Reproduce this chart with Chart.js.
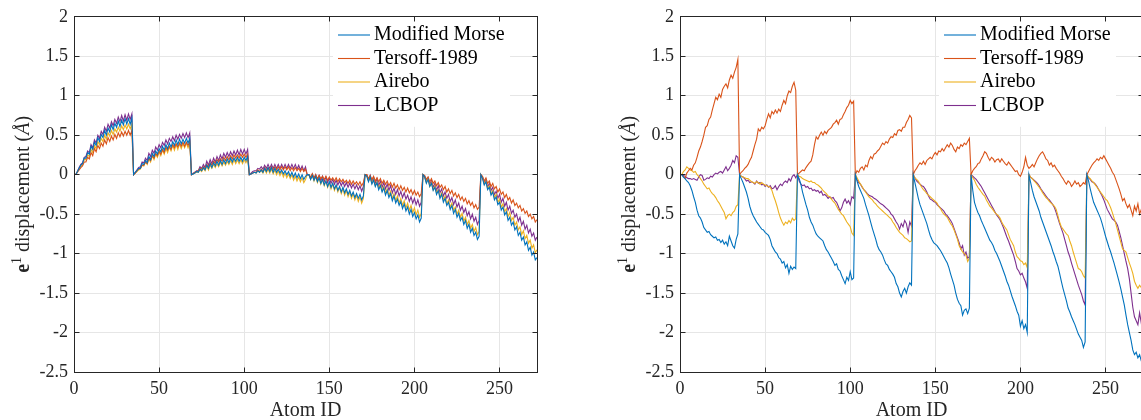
<!DOCTYPE html>
<html>
<head>
<meta charset="utf-8">
<script src="https://cdn.jsdelivr.net/npm/chart.js@4.4.1/dist/chart.umd.min.js"></script>
<style>
  html, body { margin: 0; padding: 0; background: #fff; overflow: hidden; }
  body { width: 1141px; height: 420px; position: relative; }
  canvas { position: absolute; top: 0; }
</style>
</head>
<body>
<canvas id="left" width="570" height="420" style="left:0"></canvas>
<canvas id="right" width="576" height="420" style="left:570px"></canvas>
<script>
// atom ids 1..272, one value per atom in every series
const atomIds = Array.from({ length: 272 }, (_, i) => i + 1)
const seriesNames = ['Modified Morse', 'Tersoff-1989', 'Airebo', 'LCBOP']
const xTicks = [0, 50, 100, 150, 200, 250]
const yTicks = [-2.5, -2, -1.5, -1, -0.5, 0, 0.5, 1, 1.5, 2]

// left panel
const morseLeft = [
  0,.04,.08,.12,.14,.21,.21,.28,.26,.36,.32,.41,.37,.47,.42,.51,.47,.56,.50,.59,.54,.63,.57,.65,.60,.68,.61,.69,.63,.71,.64,.71,.64,.72,
  0,.03,.05,.08,.08,.14,.13,.18,.15,.23,.19,.27,.23,.30,.26,.33,.29,.36,.31,.38,.33,.40,.35,.42,.37,.44,.38,.45,.39,.45,.40,.46,.40,.46,
  0,.01,.02,.04,.03,.07,.05,.09,.06,.12,.08,.14,.09,.15,.11,.17,.12,.18,.13,.19,.14,.20,.15,.21,.16,.21,.17,.22,.17,.22,.17,.22,.18,.23,
  0,.01,.02,.03,.02,.05,.03,.06,.03,.08,.04,.09,.04,.09,.03,.08,.03,.07,.02,.06,.01,.05,0,.04,-.02,.03,-.03,.02,-.04,.01,-.05,0,-.06,-.02,
  0,0,-.06,-.01,-.07,-.02,-.09,-.04,-.11,-.06,-.13,-.08,-.15,-.09,-.16,-.11,-.18,-.13,-.20,-.15,-.22,-.16,-.23,-.18,-.25,-.20,-.27,-.22,-.29,-.24,-.30,-.25,-.32,-.27,
  0,-.02,-.09,-.03,-.12,-.07,-.15,-.10,-.19,-.14,-.22,-.17,-.26,-.20,-.29,-.24,-.33,-.27,-.36,-.31,-.39,-.34,-.43,-.37,-.46,-.41,-.50,-.44,-.53,-.48,-.56,-.51,-.60,-.55,
  0,-.03,-.11,-.06,-.15,-.11,-.20,-.16,-.25,-.20,-.30,-.25,-.35,-.30,-.39,-.35,-.44,-.39,-.49,-.44,-.54,-.49,-.58,-.54,-.63,-.58,-.68,-.63,-.73,-.68,-.77,-.73,-.82,-.78,
  0,-.05,-.13,-.09,-.19,-.16,-.26,-.22,-.32,-.28,-.38,-.35,-.45,-.41,-.51,-.47,-.58,-.54,-.64,-.60,-.70,-.66,-.77,-.73,-.83,-.79,-.89,-.85,-.96,-.92,-1.02,-.98,-1.08,-1.05
]
const tersoffLeft = [
  0,.03,.06,.09,.11,.16,.16,.22,.20,.28,.24,.33,.29,.37,.33,.40,.36,.44,.39,.47,.42,.49,.44,.51,.46,.53,.48,.54,.49,.55,.50,.56,.50,.56,
  0,.02,.05,.07,.08,.12,.12,.16,.14,.21,.18,.24,.21,.27,.24,.30,.26,.32,.28,.35,.31,.36,.32,.38,.34,.39,.35,.40,.36,.41,.36,.41,.37,.42,
  0,.01,.03,.04,.05,.08,.07,.10,.08,.13,.10,.15,.12,.17,.14,.19,.16,.20,.17,.22,.18,.23,.19,.24,.20,.25,.21,.25,.21,.26,.22,.26,.22,.26,
  0,.01,.02,.03,.03,.06,.04,.07,.04,.09,.05,.09,.06,.10,.06,.10,.06,.10,.06,.10,.06,.10,.06,.10,.05,.09,.05,.09,.05,.08,.04,.08,.04,.07,
  0,0,-.03,.01,-.04,0,-.05,-.01,-.05,-.02,-.06,-.02,-.07,-.03,-.07,-.04,-.08,-.04,-.09,-.05,-.09,-.06,-.10,-.07,-.11,-.07,-.12,-.08,-.12,-.09,-.13,-.09,-.14,-.10,
  0,0,-.05,-.01,-.06,-.02,-.08,-.04,-.09,-.05,-.11,-.07,-.12,-.08,-.14,-.10,-.16,-.11,-.17,-.13,-.19,-.14,-.20,-.16,-.22,-.17,-.23,-.19,-.25,-.20,-.26,-.22,-.28,-.24,
  0,-.01,-.06,-.03,-.09,-.05,-.11,-.08,-.14,-.10,-.16,-.13,-.19,-.15,-.22,-.18,-.24,-.20,-.27,-.23,-.29,-.25,-.32,-.28,-.34,-.30,-.37,-.33,-.39,-.35,-.42,-.38,-.44,-.41,
  0,-.02,-.08,-.04,-.11,-.08,-.15,-.11,-.18,-.15,-.22,-.18,-.25,-.22,-.29,-.25,-.32,-.29,-.36,-.32,-.39,-.36,-.42,-.39,-.46,-.43,-.49,-.46,-.53,-.50,-.56,-.53,-.60,-.57
]
const airebLeft = [
  0,.04,.07,.11,.12,.19,.19,.25,.23,.32,.28,.37,.33,.42,.38,.46,.42,.50,.45,.53,.49,.56,.51,.58,.54,.60,.55,.62,.57,.63,.58,.64,.58,.64,
  0,.02,.04,.06,.07,.12,.11,.16,.13,.20,.16,.24,.19,.26,.22,.29,.24,.31,.26,.33,.28,.35,.30,.37,.31,.38,.32,.39,.33,.39,.34,.40,.34,.40,
  0,.01,.02,.03,.03,.06,.04,.08,.05,.11,.06,.12,.08,.13,.09,.14,.10,.16,.11,.16,.12,.17,.13,.18,.13,.19,.14,.19,.14,.19,.14,.19,.15,.20,
  0,.01,.02,.03,.02,.05,.03,.05,.02,.07,.02,.07,.02,.07,.01,.06,0,.05,-.01,.04,-.03,.02,-.04,.01,-.05,0,-.07,-.02,-.08,-.03,-.09,-.04,-.10,-.06,
  0,0,-.06,0,-.08,-.02,-.10,-.04,-.12,-.06,-.14,-.08,-.16,-.10,-.18,-.12,-.20,-.14,-.22,-.16,-.24,-.18,-.26,-.20,-.28,-.22,-.30,-.24,-.32,-.26,-.34,-.28,-.36,-.30,
  0,-.01,-.08,-.03,-.11,-.06,-.14,-.09,-.17,-.12,-.20,-.15,-.23,-.18,-.26,-.21,-.30,-.24,-.33,-.27,-.36,-.30,-.39,-.33,-.42,-.36,-.45,-.39,-.48,-.42,-.51,-.45,-.54,-.49,
  0,-.03,-.10,-.05,-.15,-.10,-.19,-.14,-.23,-.19,-.28,-.23,-.32,-.27,-.37,-.32,-.41,-.36,-.45,-.41,-.50,-.45,-.54,-.49,-.59,-.54,-.63,-.58,-.68,-.63,-.72,-.67,-.76,-.72,
  0,-.04,-.12,-.08,-.18,-.14,-.24,-.20,-.29,-.25,-.35,-.31,-.41,-.37,-.47,-.43,-.53,-.48,-.58,-.54,-.64,-.60,-.70,-.66,-.76,-.71,-.81,-.77,-.87,-.83,-.93,-.89,-.99,-.95
]
const lcbopLeft = [
  0,.04,.09,.13,.15,.22,.23,.30,.28,.38,.34,.44,.40,.50,.46,.55,.51,.60,.55,.64,.59,.67,.62,.70,.65,.73,.67,.75,.68,.76,.69,.77,.70,.77,
  0,.03,.06,.09,.10,.16,.15,.21,.18,.27,.23,.31,.27,.35,.31,.38,.34,.41,.37,.44,.39,.46,.42,.48,.43,.50,.45,.51,.46,.52,.47,.53,.47,.53,
  0,.02,.03,.05,.05,.10,.08,.13,.09,.17,.12,.19,.14,.21,.16,.23,.18,.25,.20,.27,.22,.28,.23,.29,.24,.30,.25,.31,.25,.32,.26,.32,.26,.32,
  0,.02,.04,.05,.05,.08,.07,.10,.07,.12,.08,.13,.08,.13,.08,.13,.08,.13,.08,.13,.08,.13,.08,.13,.08,.13,.08,.13,.07,.12,.06,.11,.05,.10,
  0,0,-.05,.01,-.06,0,-.07,-.01,-.08,-.02,-.09,-.03,-.10,-.04,-.11,-.06,-.12,-.07,-.13,-.08,-.14,-.09,-.15,-.10,-.16,-.11,-.17,-.12,-.18,-.13,-.19,-.14,-.21,-.15,
  0,0,-.07,-.01,-.09,-.03,-.11,-.05,-.14,-.08,-.16,-.10,-.18,-.12,-.20,-.14,-.23,-.17,-.25,-.19,-.27,-.21,-.29,-.23,-.31,-.26,-.34,-.28,-.36,-.30,-.38,-.32,-.40,-.35,
  0,-.02,-.09,-.04,-.13,-.07,-.16,-.11,-.20,-.14,-.23,-.18,-.27,-.22,-.30,-.25,-.34,-.29,-.38,-.32,-.41,-.36,-.45,-.40,-.48,-.43,-.52,-.47,-.56,-.50,-.59,-.54,-.63,-.58,
  0,-.03,-.11,-.06,-.16,-.11,-.20,-.16,-.25,-.21,-.30,-.25,-.35,-.30,-.40,-.35,-.45,-.40,-.49,-.45,-.54,-.50,-.59,-.54,-.64,-.59,-.69,-.64,-.74,-.69,-.78,-.74,-.83,-.79
]

// right panel
const morseRight = [
  0,-.03,-.05,-.08,-.10,-.14,-.20,-.28,-.35,-.45,-.52,-.55,-.60,-.67,-.70,-.73,-.72,-.76,-.78,-.80,-.79,-.83,-.82,-.86,-.83,-.88,-.85,-.90,-.78,-.84,-.90,-.93,-.82,-.75,
  0,-.05,-.10,-.16,-.22,-.30,-.40,-.47,-.52,-.56,-.60,-.63,-.66,-.69,-.70,-.73,-.75,-.77,-.82,-.90,-.94,-.98,-1.00,-1.05,-1.07,-1.12,-1.10,-1.18,-1.14,-1.25,-1.16,-1.20,-1.17,-1.19,
  0,-.05,-.12,-.22,-.30,-.38,-.45,-.54,-.60,-.64,-.70,-.75,-.78,-.80,-.82,-.84,-.90,-.95,-.98,-1.02,-1.06,-1.10,-1.15,-1.13,-1.20,-1.22,-1.28,-1.33,-1.38,-1.30,-1.34,-1.23,-1.33,-1.31,
  0,-.08,-.15,-.20,-.25,-.30,-.38,-.45,-.52,-.60,-.68,-.75,-.82,-.90,-.95,-.98,-1.02,-1.08,-1.13,-1.15,-1.20,-1.23,-1.26,-1.30,-1.38,-1.42,-1.50,-1.55,-1.48,-1.44,-1.50,-1.42,-1.37,-1.40,
  0,-.10,-.20,-.30,-.38,-.44,-.50,-.56,-.62,-.70,-.77,-.82,-.86,-.88,-.90,-.93,-.96,-1.00,-1.04,-1.08,-1.12,-1.18,-1.26,-1.33,-1.40,-1.50,-1.58,-1.63,-1.66,-1.78,-1.72,-1.70,-1.76,-1.69,
  0,-.20,-.35,-.42,-.48,-.52,-.58,-.63,-.68,-.73,-.78,-.83,-.86,-.90,-.96,-1.00,-1.05,-1.10,-1.16,-1.22,-1.28,-1.35,-1.40,-1.47,-1.54,-1.60,-1.66,-1.73,-1.78,-1.92,-1.85,-1.95,-1.90,-2.00,
  0,-.10,-.20,-.28,-.34,-.40,-.46,-.54,-.60,-.66,-.72,-.78,-.84,-.90,-.97,-1.03,-1.10,-1.16,-1.25,-1.35,-1.44,-1.52,-1.60,-1.69,-1.74,-1.80,-1.85,-1.90,-1.96,-2.02,-2.06,-2.10,-2.19,-2.12,
  0,-.08,-.18,-.27,-.35,-.40,-.45,-.50,-.55,-.62,-.70,-.78,-.85,-.92,-.98,-1.05,-1.12,-1.20,-1.28,-1.36,-1.45,-1.55,-1.65,-1.78,-1.90,-2.00,-2.10,-2.22,-2.28,-2.25,-2.32,-2.28,-2.36,-2.38
]
const tersoffRight = [
  0,-.02,-.05,.02,.05,.08,.06,.12,.15,.22,.30,.35,.42,.50,.60,.62,.70,.73,.82,.90,.98,.95,1.02,.98,1.08,1.12,1.15,1.10,1.20,1.26,1.22,1.30,1.36,1.46,
  0,.03,.05,.08,.10,.13,.18,.22,.30,.38,.45,.58,.55,.60,.58,.62,.70,.77,.72,.80,.77,.82,.78,.83,.80,.88,.94,.90,1.00,1.06,1.04,1.12,1.17,1.07,
  0,.02,.04,.06,.05,.09,.12,.15,.17,.25,.38,.48,.45,.50,.54,.50,.55,.52,.56,.58,.60,.64,.66,.69,.64,.70,.71,.76,.80,.85,.88,.94,.90,.93,
  0,.05,.03,.08,.10,.06,.12,.10,.18,.23,.20,.26,.27,.30,.32,.36,.40,.38,.42,.40,.45,.48,.47,.52,.50,.56,.57,.55,.60,.60,.66,.70,.75,.72,
  0,.05,.08,.12,.15,.13,.17,.13,.18,.20,.22,.20,.25,.28,.25,.30,.29,.33,.30,.34,.38,.35,.40,.37,.32,.29,.35,.33,.38,.36,.40,.38,.42,.46,
  0,.05,.08,.10,.14,.15,.20,.24,.29,.27,.22,.18,.22,.20,.16,.19,.20,.16,.20,.17,.14,.12,.16,.13,.10,.07,.04,.05,0,-.02,.03,.10,.22,.12,
  .08,.10,.13,.10,.15,.20,.24,.27,.29,.25,.20,.18,.12,.15,.10,.12,.08,.05,.02,-.02,-.05,-.09,-.12,-.08,-.10,-.15,-.12,-.08,-.12,-.10,-.15,-.13,-.10,-.12,
  0,.04,.08,.12,.15,.17,.20,.18,.22,.20,.24,.20,.16,.12,.08,.03,0,-.06,-.12,-.18,-.25,-.33,-.30,-.37,-.42,-.38,-.45,-.52,-.40,-.46,-.37,-.50,-.44,-.48
]
const airebRight = [
  0,.04,.06,.10,.08,.06,.05,.03,.04,0,-.02,-.05,-.08,-.12,-.15,-.18,-.17,-.21,-.24,-.26,-.29,-.33,-.36,-.40,-.44,-.48,-.56,-.52,-.50,-.52,-.48,-.46,-.40,-.38,
  0,-.02,-.03,-.04,-.05,-.05,-.07,-.09,-.10,-.11,-.09,-.10,-.12,-.10,-.12,-.13,-.14,-.15,-.16,-.20,-.27,-.33,-.40,-.48,-.55,-.60,-.64,-.60,-.62,-.58,-.61,-.55,-.58,-.56,
  0,-.02,-.03,-.05,-.06,-.07,-.08,-.09,-.08,-.10,-.10,-.12,-.13,-.15,-.17,-.20,-.22,-.24,-.27,-.28,-.31,-.34,-.36,-.40,-.44,-.47,-.50,-.52,-.56,-.60,-.63,-.66,-.74,-.77,
  0,-.04,-.08,-.12,-.15,-.19,-.22,-.25,-.28,-.30,-.32,-.35,-.37,-.40,-.42,-.44,-.46,-.48,-.50,-.52,-.54,-.56,-.60,-.63,-.67,-.70,-.73,-.75,-.77,-.80,-.81,-.83,-.85,-.84,
  0,-.04,-.06,-.08,-.12,-.16,-.19,-.21,-.24,-.26,-.28,-.30,-.32,-.34,-.36,-.40,-.43,-.47,-.50,-.52,-.54,-.58,-.62,-.65,-.70,-.76,-.82,-.90,-.94,-.98,-1.00,-1.02,-1.10,-1.06,
  0,-.04,-.07,-.12,-.16,-.19,-.22,-.25,-.27,-.32,-.36,-.40,-.42,-.45,-.48,-.50,-.52,-.55,-.60,-.64,-.67,-.70,-.76,-.82,-.86,-.90,-.98,-1.04,-1.06,-1.09,-1.10,-1.14,-1.12,-1.18,
  0,-.03,-.05,-.08,-.10,-.13,-.16,-.19,-.23,-.26,-.29,-.31,-.34,-.36,-.38,-.40,-.44,-.52,-.60,-.66,-.69,-.72,-.75,-.77,-.84,-.90,-.98,-1.05,-1.12,-1.19,-1.20,-1.23,-1.28,-1.31,
  0,-.03,-.05,-.08,-.10,-.13,-.16,-.19,-.22,-.25,-.28,-.31,-.33,-.37,-.42,-.48,-.55,-.62,-.70,-.78,-.86,-.94,-.96,-.98,-1.05,-1.12,-1.18,-1.25,-1.35,-1.40,-1.44,-1.40,-1.43,-1.42
]
const lcbopRight = [
  0,-.01,-.02,-.04,-.05,-.05,-.06,-.05,-.06,-.07,-.03,0,-.01,-.07,-.06,-.04,-.05,-.02,-.03,0,.02,.01,.03,.04,.02,.06,.10,.05,.08,.12,.18,.15,.24,.22,
  0,-.02,-.03,-.05,-.08,-.07,-.10,-.09,-.10,-.12,-.08,-.11,-.10,-.13,-.12,-.15,-.13,-.16,-.14,-.18,-.17,-.14,-.19,-.15,-.12,-.14,-.10,-.08,-.10,-.05,-.08,-.02,0,-.04,
  0,-.08,-.12,-.14,-.13,-.16,-.15,-.18,-.17,-.20,-.19,-.21,-.20,-.23,-.21,-.26,-.25,-.27,-.30,-.28,-.30,-.29,-.33,-.35,-.40,-.46,-.42,-.35,-.31,-.36,-.33,-.38,-.28,-.30,
  0,-.06,-.10,-.12,-.16,-.19,-.21,-.24,-.26,-.27,-.28,-.30,-.31,-.33,-.35,-.37,-.38,-.40,-.42,-.44,-.46,-.50,-.52,-.56,-.60,-.63,-.69,-.62,-.66,-.58,-.62,-.73,-.60,-.65,
  0,-.04,-.08,-.10,-.12,-.14,-.15,-.18,-.22,-.27,-.31,-.32,-.34,-.35,-.38,-.40,-.42,-.44,-.46,-.50,-.52,-.55,-.58,-.62,-.68,-.74,-.80,-.86,-.94,-.90,-1.02,-.98,-1.06,-1.04,
  0,-.02,-.04,-.06,-.09,-.12,-.15,-.19,-.23,-.27,-.31,-.35,-.39,-.43,-.47,-.51,-.54,-.57,-.62,-.67,-.73,-.79,-.84,-.90,-.96,-1.02,-1.10,-1.19,-1.22,-1.27,-1.25,-1.31,-1.36,-1.44,
  0,-.03,-.05,-.07,-.09,-.11,-.14,-.18,-.21,-.24,-.27,-.30,-.32,-.35,-.38,-.42,-.48,-.55,-.62,-.68,-.74,-.82,-.90,-.98,-1.04,-1.12,-1.19,-1.26,-1.33,-1.40,-1.46,-1.52,-1.60,-1.65,
  0,-.04,-.06,-.09,-.10,-.12,-.15,-.19,-.23,-.27,-.32,-.38,-.44,-.48,-.52,-.56,-.58,-.60,-.64,-.72,-.80,-.90,-1.00,-1.10,-1.19,-1.32,-1.50,-1.68,-1.80,-1.85,-1.90,-1.75,-1.88,-1.85
]

const SERIF = '"Liberation Serif", "Times New Roman", serif'
const colours = ['#0072BD', '#D95319', '#EDB120', '#7E2F8E']
const axisCol = '#262626'
const gridCol = '#e6e6e6'

function points(vals) {
  return vals.map((v, i) => ({ x: atomIds[i], y: v }))
}

// same rounding chart.js uses for its grid lines
function crisp(p) {
  return Math.round(p - 0.5) + 0.5
}

function drawYTitle(ctx, x, yc) {
  const parts = [
    { t: 'e', f: 'bold 20px ' + SERIF, dy: 0 },
    { t: '1', f: '14px ' + SERIF, dy: -8 },
    { t: ' displacement (', f: '20px ' + SERIF, dy: 0 },
    { t: 'Å', f: 'italic 20px ' + SERIF, dy: 0 },
    { t: ')', f: '20px ' + SERIF, dy: 0 }
  ]
  ctx.save()
  ctx.translate(x, yc)
  ctx.rotate(-Math.PI / 2)
  let w = 0
  parts.forEach(p => { ctx.font = p.f; p.w = ctx.measureText(p.t).width; w += p.w })
  let cx = -w / 2
  ctx.textAlign = 'left'
  ctx.textBaseline = 'alphabetic'
  ctx.fillStyle = axisCol
  parts.forEach(p => { ctx.font = p.f; ctx.fillText(p.t, cx, p.dy); cx += p.w })
  ctx.restore()
}

// legend, box, inward ticks and axis titles (matlab look)
const decor = {
  id: 'decor',
  afterDatasetsDraw(chart) {
    const ctx = chart.ctx, a = chart.chartArea
    const xs = chart.scales.x, ys = chart.scales.y
    ctx.save()

    // legend
    const lx = a.left + 259
    ctx.fillStyle = '#fff'
    ctx.fillRect(lx, a.top + 1, 177, 109)
    ctx.font = '20px ' + SERIF
    ctx.textBaseline = 'middle'
    ctx.textAlign = 'left'
    seriesNames.forEach((name, i) => {
      const y = 35 + i * 23.5
      ctx.strokeStyle = colours[i]
      ctx.lineWidth = 1.1
      ctx.beginPath()
      ctx.moveTo(lx + 5, y)
      ctx.lineTo(lx + 37, y)
      ctx.stroke()
      ctx.fillStyle = '#000'
      ctx.fillText(name, lx + 41, y)
    })

    // box
    const L = crisp(a.left), R = crisp(a.right), T = crisp(a.top), B = crisp(a.bottom)
    ctx.strokeStyle = axisCol
    ctx.lineWidth = 1
    ctx.strokeRect(L, T, R - L, B - T)

    // ticks pointing inwards on all four sides
    ctx.beginPath()
    xTicks.forEach(v => {
      const p = crisp(xs.getPixelForValue(v))
      ctx.moveTo(p, B); ctx.lineTo(p, B - 5)
      ctx.moveTo(p, T); ctx.lineTo(p, T + 5)
    })
    yTicks.forEach(v => {
      const p = crisp(ys.getPixelForValue(v))
      ctx.moveTo(L, p); ctx.lineTo(L + 5, p)
      ctx.moveTo(R, p); ctx.lineTo(R - 5, p)
    })
    ctx.stroke()

    // axis titles
    ctx.fillStyle = axisCol
    ctx.font = '20px ' + SERIF
    ctx.textAlign = 'center'
    ctx.textBaseline = 'alphabetic'
    ctx.fillText('Atom ID', (a.left + a.right) / 2, 416)
    drawYTitle(ctx, a.left - 45.5, (a.top + a.bottom) / 2)

    ctx.restore()
  }
}

function makeChart(id, series, yWidth, padRight) {
  const tickFont = { family: SERIF, size: 18 }
  return new Chart(document.getElementById(id), {
    type: 'line',
    data: {
      datasets: series.map((vals, i) => ({
        label: seriesNames[i],
        data: points(vals),
        borderColor: colours[i],
        borderWidth: 1.1,
        pointRadius: 0,
        tension: 0,
        fill: false
      }))
    },
    options: {
      responsive: false,
      animation: false,
      devicePixelRatio: 1,
      events: [],
      layout: { padding: { top: 12, right: padRight, left: 0, bottom: 0 } },
      plugins: { legend: { display: false }, tooltip: { enabled: false } },
      scales: {
        x: {
          type: 'linear',
          min: 0,
          max: 272,
          afterBuildTicks: s => { s.ticks = xTicks.map(v => ({ value: v })) },
          afterFit: s => { s.height = 48 },
          grid: { color: gridCol, drawTicks: false },
          border: { display: false },
          ticks: { font: tickFont, color: axisCol, padding: 6, maxRotation: 0, autoSkip: false, callback: v => String(v) }
        },
        y: {
          type: 'linear',
          min: -2.5,
          max: 2,
          afterBuildTicks: s => { s.ticks = yTicks.map(v => ({ value: v })) },
          afterFit: s => { s.width = yWidth },
          grid: { color: gridCol, drawTicks: false },
          border: { display: false },
          ticks: { font: tickFont, color: axisCol, padding: 6, autoSkip: false, callback: v => String(v) }
        }
      }
    },
    plugins: [decor]
  })
}

makeChart('left', [morseLeft, tersoffLeft, airebLeft, lcbopLeft], 74, 33)
makeChart('right', [morseRight, tersoffRight, airebRight, lcbopRight], 110, 3)
</script>
</body>
</html>
